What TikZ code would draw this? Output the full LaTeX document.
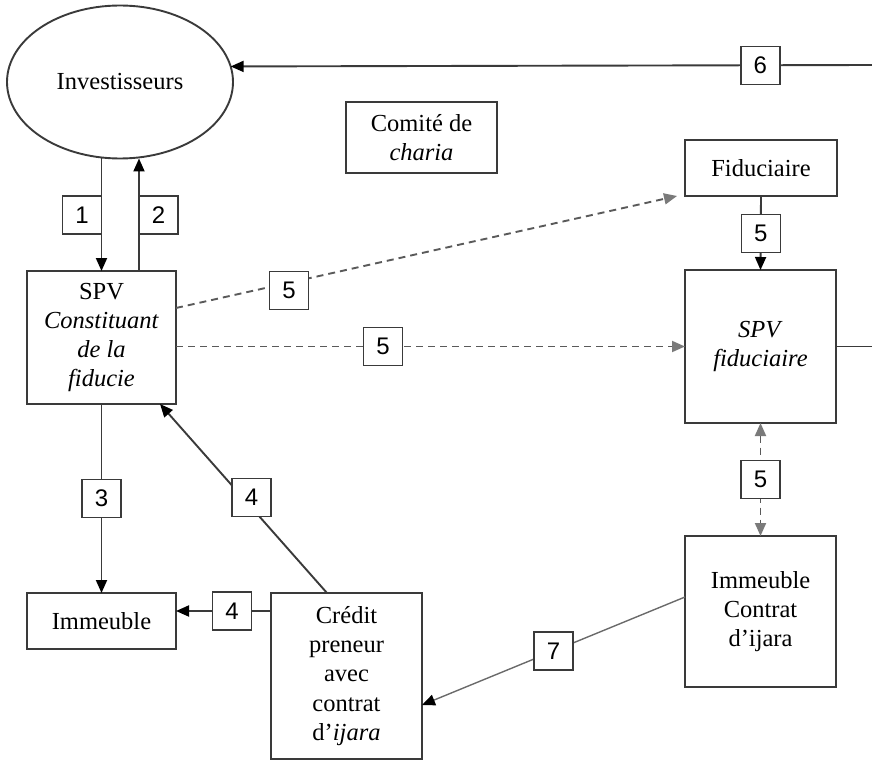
\documentclass[tikz,border=0pt]{standalone}
\usepackage{fontspec}
\setmainfont{Liberation Serif}
\newfontfamily\digitfont{Liberation Sans}
\usetikzlibrary{shapes.geometric,arrows.meta,calc}
\definecolor{linec}{HTML}{3A3A3A}
\definecolor{dashc}{HTML}{5A5A5A}
\definecolor{tipg}{HTML}{7A7A7A}
\definecolor{sevenc}{HTML}{6A6A6A}
\begin{document}
\begin{tikzpicture}[x=1pt,y=-1pt,
  box/.style={draw=linec, line width=1.9pt, inner sep=0pt, outer sep=0pt, align=center,
    font=\fontsize{24.5}{29.3}\selectfont},
  lbl/.style={draw=linec, solid, line width=1.5pt, fill=white, minimum width=39pt, minimum height=38pt,
    inner sep=0pt, outer sep=0pt, font=\digitfont\fontsize{24}{24}\selectfont},
  conn/.style={draw=linec, line width=1.9pt},
  seven/.style={draw=sevenc, line width=1.4pt},
  tip/.style={-{Triangle[length=13pt,width=11pt,color=black]}},
  dconn/.style={draw=dashc, line width=1.9pt, dash pattern=on 7pt off 5pt},
  gtip/.style={-{Triangle[length=13pt,width=11pt,color=tipg]}},
  gtiptwo/.style={{Triangle[length=13pt,width=11pt,color=tipg]}-{Triangle[length=13pt,width=11pt,color=tipg]}}
]
\useasboundingbox (0,0) rectangle (872,762);

% nodes
\node[box, ellipse, minimum width=226pt, minimum height=153pt] (inv) at (120,82) {Investisseurs};
\node[box, minimum width=149pt, minimum height=133pt] (spv) at (101.5,337.5)
  {SPV\\\textit{Constituant}\\\textit{de la}\\\textit{fiducie}};
\node[box, minimum width=151pt, minimum height=71pt] (com) at (421.5,137.5) {Comité de\\\textit{charia}};
\node[box, minimum width=152pt, minimum height=56pt] (fid) at (761,168) {Fiduciaire};
\node[box, minimum width=151pt, minimum height=153pt] (spvf) at (760.5,346.5) {\textit{SPV}\\\textit{fiduciaire}};
\node[box, minimum width=151pt, minimum height=151pt] (imc) at (760.5,611.5) {Immeuble\\Contrat\\d’ijara};
\node[box, minimum width=151pt, minimum height=166pt] (cred) at (346.5,676)
  {Crédit\\preneur\\avec\\contrat\\d’\textit{ijara}};
\node[box, minimum width=149pt, minimum height=56pt] (imm) at (101.5,621) {Immeuble};

\coordinate (r6) at (872,65);
\coordinate (edge) at (872,0);
\coordinate (s2) at ($(spv.north)+(37.5,0)$);
\coordinate (h4) at ($(imm.east)+(0,-10)$);

% connectors
\draw[conn,tip] (r6) -- node[lbl,pos=0.174] (l6) {6} (inv.8.8);
\draw[conn,tip] (inv.south -| spv.north) -- node[lbl,pos=0.5,anchor=east] (l1) {1} (spv.north);
\draw[conn,tip] (s2) -- node[lbl,pos=0.5,anchor=west] (l2) {2} (s2 |- inv.south);
\draw[conn,tip] (spv.south) -- node[lbl,pos=0.5] (l3) {3} (imm.north);
\draw[conn,tip] ($(cred.north)+(-19.5,0)$) -- node[lbl,pos=0.505,xshift=9pt] (l4a) {4} ($(spv.south east)+(-16,0)$);
\draw[conn,tip] (cred.west |- h4) -- node[lbl,pos=0.41] (l4b) {4} (h4);
\draw[seven,tip] ($(imc.west)+(0,-14.5)$) -- node[lbl,pos=0.5] (l7) {7} ($(cred.east)+(0,29)$);
\draw[dconn,gtip] ($(spv.east)+(0,-29.5)$) -- node[lbl,pos=0.2255,yshift=-8pt] (l5a) {5} ($(fid.south west)+(-8,0)$);
\draw[dconn,gtip] (spvf.west -| spv.east) -- node[lbl,pos=0.407] (l5b) {5} (spvf.west);
\draw[conn,tip] (fid.south) -- node[lbl,pos=0.51] (l5c) {5} (spvf.north);
\draw[dconn,gtiptwo] (spvf.south) -- node[lbl,pos=0.5] (l5d) {5} (imc.north);
\draw[conn] (spvf.east) -- (spvf.east -| edge);
\end{tikzpicture}
\end{document}
